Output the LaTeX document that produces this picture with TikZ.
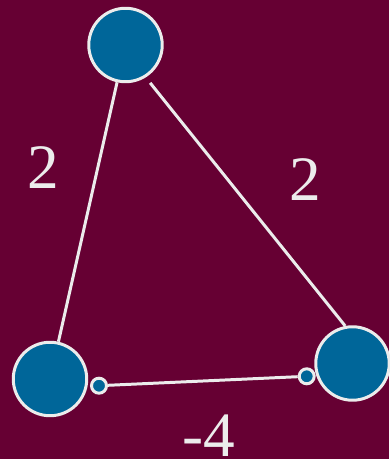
\documentclass[tikz,border=0pt]{standalone}
\usepackage{fontspec}
\setmainfont{Liberation Serif}
\begin{document}
\begin{tikzpicture}[x=0.02cm, y=-0.02cm, font=\fontsize{36}{40}\selectfont]
		\definecolor{wine}{RGB}{102, 0, 51}
		\definecolor{seablue}{RGB}{0, 102, 153}
		\definecolor{chalk}{RGB}{236, 236, 236}
		\tikzset{
			vertex/.style={circle, fill=seablue, draw=chalk, line width=1.7pt, minimum size=1.47cm, inner sep=0pt},
			port/.style={circle, fill=seablue, draw=chalk, line width=1.7pt, minimum size=0.3cm, inner sep=0pt},
			edge/.style={chalk, line width=1.7pt},
			weight/.style={text=chalk, inner sep=0pt}
		}
		
		% 背景
		\fill[wine] (0,0) rectangle (389,459);
		\useasboundingbox (0,0) rectangle (389,459);
		
		% 顶点
		\node[vertex] (top) at (125.5,45) {};
		\node[vertex] (left) at (50,379) {};
		\node[vertex] (right) at (352.5,363.5) {};
		
		% 边
		\draw[edge] (top) -- (left);
		\draw[edge, shorten <=4pt] (top.-58) -- (right.101);
		\node[port] (lport) at (99,385.7) {};
		\node[port] (rport) at (306.7,376.3) {};
		\draw[edge] (lport) -- (rport);
		
		% 权重
		\node[weight] (wleft) at (43,168) {2};
		\node[weight] (wright) at (305,179.5) {2};
		\node[weight, anchor=base] (wbottom) at (209,456) {-4};
	\end{tikzpicture}
\end{document}
